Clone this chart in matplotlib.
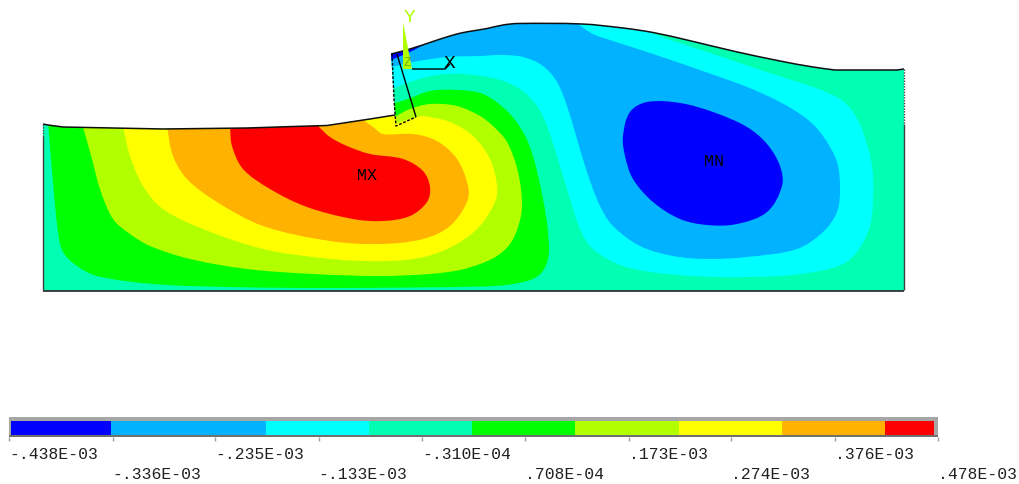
import numpy as np
import matplotlib
matplotlib.use("Agg")
import matplotlib.pyplot as plt
from matplotlib.path import Path
from matplotlib.patches import PathPatch, Polygon

W, H = 1020, 485

# contour band colours (low to high)
COLORS = ["#0000FF", "#00B2FF", "#00FFFF", "#00FFB2", "#00FF00",
          "#B2FF00", "#FFFF00", "#FFB200", "#FF0000"]

# legend values (x1e-3) and labels
TICK_VALUES = [-.438, -.336, -.235, -.133, -.031, .0708, .173, .274, .376, .478]
TICK_LABELS = ["-.438E-03", "-.336E-03", "-.235E-03", "-.133E-03", "-.310E-04",
               ".708E-04", ".173E-03", ".274E-03", ".376E-03", ".478E-03"]
BAND_EDGES = [-.4363, -.3377, -.1847, -.0831, .0185, .1201, .2227, .3244, .4260, .4743]

# model outline
SURFACE_RIGHT = [(391, 55), (410, 50), (457, 35), (487, 29.5), (503, 26), (518, 24.5), (582, 25),
                 (623, 29), (653, 33.5), (687, 41), (733, 52), (780, 62), (813, 68),
                 (835, 71)]
SURFACE_END = [(897, 71), (904, 70)]
SURFACE_LEFT = [(395, 116), (370, 120), (327, 126.5), (293, 127.5), (247, 129),
                (163, 130), (113, 129), (63, 128), (48, 126), (43, 125)]
NOTCH = [(392, 70), (394, 100)]
BOTTOM = [(43, 291.5), (904, 291.5)]
ELEMENT_DASHED = [(392, 55), (394, 100), (396, 127), (416, 118)]
ELEMENT_SOLID = [(416, 118), (397, 55)]

# contour boundaries: (curve, closing points beyond the model)
GREEN = ([(48, 122), (53, 183), (58, 233), (63, 253), (77, 267), (97, 277), (153, 285), (230, 288),
          (330, 289), (480, 287.5), (513, 285), (538, 277), (548, 260), (548, 233), (543, 200),
          (533, 157), (523, 133), (507, 112), (483, 95), (457, 91), (430, 92), (408, 100), (395, 104)],
         [(380, 90), (40, 90)])
LIME = ([(83, 128), (92, 160), (100, 190), (113, 220), (130, 235), (150, 247), (190, 260), (247, 270),
         (313, 275), (380, 277), (430, 275), (460, 271), (480, 265), (497, 257), (510, 245), (518, 228),
         (522, 207), (518, 173), (507, 143), (493, 127), (480, 117), (457, 107), (430, 105), (410, 110),
         (396, 117)],
        [(380, 100), (70, 100)])
YELLOW = ([(123, 128), (130, 157), (143, 187), (163, 210), (203, 230), (263, 250), (313, 258), (363, 262),
           (413, 260), (447, 250), (477, 230), (495, 203), (497, 187), (490, 160), (473, 137),
           (450, 123), (423, 117), (417, 118), (397, 124)],
          [(393, 110), (100, 110)])
ORANGE = ([(167, 128), (173, 157), (187, 180), (217, 203), (263, 227), (330, 242), (380, 245), (423, 240),
           (450, 227), (467, 203), (468, 187), (457, 160), (437, 142), (413, 135), (383, 135),
           (373, 128), (363, 121)],
          [(355, 105), (160, 105)])
RED = ([(230, 128), (232, 147), (243, 170), (270, 190), (307, 208), (353, 220), (383, 222), (410, 217),
        (427, 203), (430, 188), (423, 172), (403, 160), (370, 155), (347, 147), (330, 138), (318, 127)],
       [(310, 105), (225, 105)])
CYAN = ([(392, 90), (413, 82), (437, 76), (463, 75), (497, 80), (520, 90), (537, 107), (547, 127),
         (560, 167), (570, 200), (580, 230), (593, 250), (623, 267), (667, 275), (720, 278), (780, 277),
         (820, 272), (843, 265), (857, 253), (870, 227), (873, 200), (872, 167), (863, 133), (853, 113),
         (840, 100), (813, 88), (763, 72), (713, 55), (667, 40), (650, 33)],
        [(640, 10), (385, 10)])
BLUE = ([(392, 68), (413, 63), (447, 58), (480, 57), (500, 56), (523, 58), (543, 67), (557, 83), (567, 107),
         (577, 140), (587, 173), (600, 207), (613, 227), (640, 247), (673, 257), (707, 260), (747, 258),
         (797, 250), (823, 233), (837, 213), (840, 190), (837, 163), (823, 137), (807, 120), (780, 103),
         (747, 88), (697, 70), (647, 53), (613, 42), (593, 35), (578, 25)],
        [(570, 10), (385, 10)])
WEDGE = ([(391, 61), (410, 53), (430, 43), (458, 35)], [(458, 25), (385, 45)])
BLOB = ([(647, 103), (680, 104), (713, 113), (747, 128), (767, 145), (780, 167), (782, 187), (767, 213),
         (737, 225), (707, 226), (680, 220), (653, 203), (633, 180), (625, 157), (623, 137), (630, 113),
         (647, 103)], [])


def curve_segments(curve, closed_loop=False):
    """Bezier vertices through the read points, tangents from neighbours."""
    p = np.asarray(curve, float)
    n = len(p)
    tang = np.zeros_like(p)
    for i in range(n):
        if closed_loop:
            d = p[(i + 1) % (n - 1)] - p[(i - 1) % (n - 1)]
        else:
            d = p[min(i + 1, n - 1)] - p[max(i - 1, 0)]
        tang[i] = d / np.hypot(*d)
    verts = []
    for i in range(n - 1):
        L = np.hypot(*(p[i + 1] - p[i])) / 3
        verts += [p[i] + tang[i] * L, p[i + 1] - tang[i + 1] * L, p[i + 1]]
    return p[0], verts


def region_path(curve, closure):
    start, seg = curve_segments(curve, closed_loop=not closure)
    verts = [start] + seg + list(closure) + [start]
    codes = [Path.MOVETO] + [Path.CURVE4] * len(seg) + [Path.LINETO] * len(closure) + [Path.CLOSEPOLY]
    return Path(np.array(verts, float), codes)


fig = plt.figure(figsize=(W / 100, H / 100), dpi=100, facecolor="white")
ax = fig.add_axes([0, 0, 1, 1])
ax.set_xlim(0, W)
ax.set_ylim(H, 0)
ax.axis("off")

domain_close = SURFACE_END + [BOTTOM[1], BOTTOM[0]] + SURFACE_LEFT[::-1] + NOTCH[::-1]
domain = PathPatch(region_path(SURFACE_RIGHT, domain_close), fc=COLORS[3], ec="none", zorder=1)
ax.add_patch(domain)

bands = [(CYAN, 2), (BLUE, 1), (WEDGE, 0), (BLOB, 0),
         (GREEN, 4), (LIME, 5), (YELLOW, 6), (ORANGE, 7), (RED, 8)]
for (curve, closure), c in bands:
    patch = PathPatch(region_path(curve, closure), fc=COLORS[c], ec="none", zorder=2)
    ax.add_patch(patch)
    patch.set_clip_path(domain)


def line(pts, **kw):
    xs, ys = zip(*pts)
    ax.plot(xs, ys, zorder=4, solid_capstyle="butt", **kw)


start, seg = curve_segments(SURFACE_RIGHT)
ax.add_patch(PathPatch(Path(np.array([start] + seg), [Path.MOVETO] + [Path.CURVE4] * len(seg)),
                       fc="none", ec="#101010", lw=1.1, zorder=4))
line(SURFACE_RIGHT[-1:] + SURFACE_END, color="#101010", lw=1.1)
line(SURFACE_LEFT, color="#101010", lw=1.1)
line(BOTTOM, color="#101010", lw=1.1)
line([(43, 137), (43, 291)], color="#404040", lw=1.0)
line([(904, 125), (904, 291)], color="#404040", lw=1.0)
line([(904, 70), (904, 125)], color="#404040", lw=1.0, ls=(0, (1, 1)))
line([(43, 125), (43, 137)], color="#404040", lw=1.0, ls=(0, (1, 1)))
line(ELEMENT_DASHED, color="black", lw=1.0, ls=(0, (2, 1.2)))
line(ELEMENT_SOLID, color="black", lw=1.0)

# coordinate triad
line([(412, 70), (445, 70), (450, 65)], color="black", lw=1.0)
ax.add_patch(Polygon([(403, 23), (403, 70), (412, 70)], closed=True, fc="#B2FF00", ec="none", zorder=5))
MONO = "Liberation Mono"
ax.text(409, 17, "Y", color="#B2FF00", family=MONO, fontsize=14, ha="center", va="center", zorder=6)
ax.text(450, 63, "X", color="black", family=MONO, fontsize=14, ha="center", va="center", zorder=6)
ax.text(407.5, 63.5, "Z", color="#70B000", family=MONO, fontsize=9, ha="center", va="center", zorder=6)
ax.text(367, 176, "MX", color="black", family=MONO, fontsize=12, ha="center", va="center", zorder=6)
ax.text(714, 162, "MN", color="black", family=MONO, fontsize=12, ha="center", va="center", zorder=6)

# legend bar
x0, x1 = 9.3 / W, 938 / W
cax = fig.add_axes([x0, 1 - 438 / H, x1 - x0, 20 / H])
cax.set_facecolor("#A6A6A6")
cax.set_xlim(TICK_VALUES[0], TICK_VALUES[-1])
cax.set_ylim(0, 20)
for i, c in enumerate(COLORS):
    cax.barh(9, BAND_EDGES[i + 1] - BAND_EDGES[i], left=BAND_EDGES[i], height=14, color=c, lw=0)
cax.barh(1, TICK_VALUES[-1] - TICK_VALUES[0], left=TICK_VALUES[0], height=2, color="#707070", lw=0)
for s in cax.spines.values():
    s.set_visible(False)
cax.set_yticks([])
cax.set_xticks(TICK_VALUES)
cax.set_xticklabels(TICK_LABELS, family=MONO, fontsize=11.8, ha="left", color="#202020")
cax.tick_params(axis="x", length=3, width=1, color="#A0A0A0")
for i, t in enumerate(cax.xaxis.get_major_ticks()):
    t.set_pad(3.8 if i % 2 == 0 else 18.2)

fig.savefig("out.png", dpi=100, facecolor="white")
